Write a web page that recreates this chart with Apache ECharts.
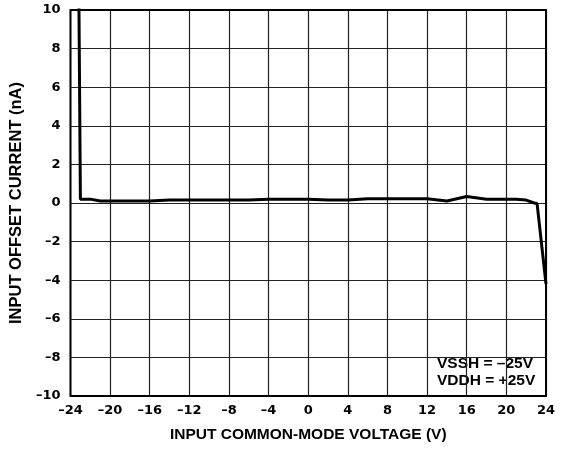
<!DOCTYPE html>
<html><head><meta charset="utf-8">
<script src="https://cdn.jsdelivr.net/npm/echarts@6/dist/echarts.min.js"></script>
<style>html,body{margin:0;padding:0;background:#fff}#c{width:567px;height:450px}</style>
</head><body><div id="c"></div>
<script>
var voltage = [-23.15, -23.0, -22, -21, -20, -18, -16, -14, -12, -10, -8, -6, -4, -2, 0, 2, 4, 6, 8, 10, 12, 14, 16, 18, 20, 21, 22, 22.8, 23.1, 24];
var offsetCurrent = [10.5, 0.2, 0.2, 0.1, 0.1, 0.1, 0.1, 0.15, 0.15, 0.15, 0.15, 0.15, 0.2, 0.2, 0.2, 0.15, 0.15, 0.22, 0.22, 0.22, 0.22, 0.1, 0.34, 0.2, 0.2, 0.2, 0.15, 0.0, -0.03, -4.2];
var xTicks = {min: -24, max: 24, step: 4};
var yTicks = {min: -10, max: 10, step: 2};
var noteLines = ['VSSH = \u201325V', 'VDDH = +25V'];

var pts = voltage.map(function(v, i){ return [v, offsetCurrent[i]]; });
function fmt(v){ return String(v).replace('-', '\u2013'); }
var FONT = 'Liberation Sans, Arial, sans-serif';
var TICKFONT = 'DejaVu Sans, sans-serif';
var chart = echarts.init(document.getElementById('c'), null, {renderer: 'canvas'});
chart.setOption({
  animation: false,
  grid: {left: 68, right: 21, top: 10, bottom: 54, show: true, borderColor: '#000', borderWidth: 2, z: 5},
  xAxis: {
    type: 'value', min: xTicks.min, max: xTicks.max, interval: xTicks.step,
    name: 'INPUT COMMON-MODE VOLTAGE (V)', nameLocation: 'middle', nameGap: 31,
    nameTextStyle: {fontFamily: FONT, fontWeight: 'bold', fontSize: 15.5, color: '#000'},
    axisLine: {show: false}, axisTick: {show: false},
    axisLabel: {formatter: fmt, fontFamily: TICKFONT, fontWeight: 'bold', fontSize: 13, color: '#000', margin: 8},
    splitLine: {show: true, lineStyle: {color: '#222', width: 1.2}}
  },
  yAxis: {
    type: 'value', min: yTicks.min, max: yTicks.max, interval: yTicks.step,
    name: 'INPUT OFFSET CURRENT (nA)', nameLocation: 'middle', nameGap: 41,
    nameTextStyle: {fontFamily: FONT, fontWeight: 'bold', fontSize: 16.5, color: '#000'},
    axisLine: {show: false}, axisTick: {show: false},
    axisLabel: {formatter: fmt, fontFamily: TICKFONT, fontWeight: 'bold', fontSize: 13, color: '#000', margin: 10},
    splitLine: {show: true, lineStyle: {color: '#222', width: 1.2}}
  },
  series: [{
    type: 'line', data: pts, showSymbol: false, clip: true,
    lineStyle: {color: '#000', width: 3}, z: 3
  }],
  graphic: [{
    type: 'group', left: 430, top: 349, z: 10,
    children: [
      {type: 'rect', shape: {x: 0, y: 0, width: 110, height: 46}, style: {fill: '#fff'}},
      {type: 'text', left: 7, top: 6, style: {text: noteLines.join('\n'), font: 'bold 15.5px ' + FONT, fill: '#000', lineHeight: 17}}
    ]
  }]
});
</script></body></html>
